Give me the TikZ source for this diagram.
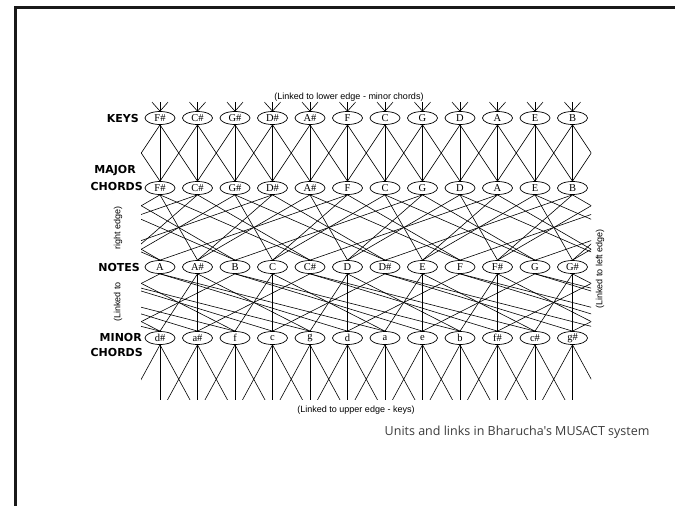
\documentclass[tikz,border=0pt]{standalone}
\usepackage{fontspec}
\setmainfont{Liberation Serif}
\newfontfamily\lblfont{DejaVu Sans}
\newfontfamily\smallfont{Liberation Sans}
\newfontfamily\capfont{Open Sans}
\usetikzlibrary{shapes.geometric,calc,backgrounds}
\definecolor{capgray}{HTML}{3A3A3A}

% link from upper unit #1 (column #3) to lower unit #2 (column #4),
% wrapped round the left/right edges by the shorter way
\newcommand\wraplink[4]{%
  \pgfmathtruncatemacro\dcol{#4-#3}%
  \ifnum\dcol>6 \pgfmathtruncatemacro\dcol{\dcol-12}\fi
  \ifnum\dcol<-5 \pgfmathtruncatemacro\dcol{\dcol+12}\fi
  \pgfmathtruncatemacro\wrapk{#3+\dcol-#4}%
  \pgfmathsetmacro\shft{\wrapk*37.5}%
  \draw[link] (#1.south) -- ($(#2.north)+(\shft,0)$);
  \ifnum\wrapk=0 \else
    \draw[link] ($(#1.south)-(\shft,0)$) -- (#2.north);
  \fi}

\begin{document}
\begin{tikzpicture}[x=1pt, y=-1pt,
   unit/.style={draw, ellipse, fill=white, inner sep=0pt, minimum width=30pt,
                minimum height=13pt, line width=0.7pt,
                font=\rmfamily\fontsize{10.5}{10.5}\selectfont},
   rowlbl/.style={anchor=east, inner sep=0pt,
                  font=\lblfont\bfseries\fontsize{11}{11}\selectfont},
   edgelbl/.style={inner sep=0pt, font=\smallfont\fontsize{9}{9}\selectfont},
   link/.style={line width=0.6pt}]
  \useasboundingbox (0,0) rectangle (675,506);
  \draw[line width=3pt, black!90] (15,506) -- (15,7) -- (675,7);

  % units
  \foreach \k [count=\i from 0] in {F\#,C\#,G\#,D\#,A\#,F,C,G,D,A,E,B}
    \node[unit] (key\i) at (160+37.5*\i,118) {\k};
  \foreach \k [count=\i from 0] in {F\#,C\#,G\#,D\#,A\#,F,C,G,D,A,E,B}
    \node[unit] (maj\i) at (160+37.5*\i,188) {\k};
  \foreach \k [count=\i from 0] in {A,A\#,B,C,C\#,D,D\#,E,F,F\#,G,G\#}
    \node[unit] (note\i) at (160+37.5*\i,267) {\k};
  \foreach \k [count=\i from 0] in {d\#,a\#,f,c,g,d,a,e,b,f\#,c\#,g\#}
    \node[unit] (min\i) at (160+37.5*\i,338) {\k};

  % row labels
  \node[rowlbl] (keys) at (139,118) {KEYS};
  \node[rowlbl] (major) at (136,171) {MAJOR};
  \node[rowlbl] (majch) at (143,186) {CHORDS};
  \node[rowlbl] (notes) at (140,267) {NOTES};
  \node[rowlbl] (minor) at (142,337) {MINOR};
  \node[rowlbl] (minch) at (143,352) {CHORDS};

  % edge labels
  \node[edgelbl] (toplbl) at (349,97) {(Linked to lower edge - minor chords)};
  \node[edgelbl] (botlbl) at (356,410) {(Linked to upper edge - keys)};
  \node[edgelbl, rotate=90] (lftlbl) at (118,228) {right edge)};
  \node[edgelbl, rotate=90] (lftlbl2) at (118,302) {(Linked to};
  \node[edgelbl, rotate=90] (rgtlbl) at (600,269) {(Linked to left edge)};

  \node[anchor=east, text=capgray, font=\capfont\fontsize{12.5}{14}\selectfont]
    (caption) at (653,432) {Units and links in Bharucha's MUSACT system};

  % links
  \begin{scope}[on background layer]
    \clip (141,95) rectangle (591,405);
    \foreach \i in {0,...,11} {
      \draw[link] (key\i.north) -- ++(-8,-9);
      \draw[link] (key\i.north) -- ++(0,-9);
      \draw[link] (key\i.north) -- ++(8,-9);
      \draw[link] (min\i.south) -- ++(-30,55);
      \draw[link] (min\i.south) -- ++(0,55);
      \draw[link] (min\i.south) -- ++(30,55);
    }
    \foreach \i in {0,...,11} \foreach \d in {-1,0,1} {
      \pgfmathtruncatemacro\j{mod(\i+\d+12,12)}
      \wraplink{key\i}{maj\j}{\i}{\j}
    }
    \foreach \i in {0,...,11} \foreach \t in {0,4,7} {
      \pgfmathtruncatemacro\j{mod(6+7*\i+\t+3,12)}
      \wraplink{maj\i}{note\j}{\i}{\j}
    }
    \foreach \i in {0,...,11} \foreach \t in {0,3,7} {
      \pgfmathtruncatemacro\j{mod(3+7*\i+\t+3,12)}
      \wraplink{note\j}{min\i}{\j}{\i}
    }
  \end{scope}
\end{tikzpicture}
\end{document}
